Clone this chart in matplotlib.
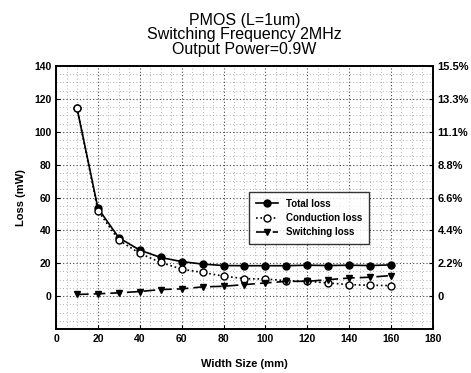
import matplotlib
matplotlib.use('Agg')
import matplotlib.pyplot as plt
import numpy as np

plt.rcParams['font.family'] = ['Liberation Sans', 'DejaVu Sans']

# data
width = [10, 20, 30, 40, 50, 60, 70, 80, 90, 100, 110, 120, 130, 140, 150, 160]
total_loss = [114.5, 53.5, 35.5, 28, 23.5, 21, 19.5, 18.6, 18.5, 18.5, 18.5, 18.8, 18.6, 18.8, 18.6, 19]
conduction_loss = [114.5, 52, 34, 26, 20.5, 16.4, 14.4, 12.2, 10.6, 10.4, 9.4, 9, 8, 7, 6.6, 6.4]
switching_loss = [1, 1.4, 2, 2.8, 4, 4.4, 5.6, 6, 7, 8, 9, 9, 10, 11, 11.5, 12.5]

left_ticks = [0, 20, 40, 60, 80, 100, 120, 140]
right_labels = ['0', '2.2%', '4.4%', '6.6%', '8.8%', '11.1%', '13.3%', '15.5%']

fig = plt.figure(figsize=(4.71, 3.73), dpi=100)
ax = fig.add_axes([0.119, 0.118, 0.8, 0.705])

ax.plot(width, total_loss, '-', color='black', lw=1.2, marker='o', ms=5,
        label='Total loss')
ax.plot(width, conduction_loss, ':', color='black', lw=1.2, marker='o', ms=5,
        mfc='white', mew=1.0, label='Conduction loss')
ax.plot(width, switching_loss, color='black', lw=1.2, ls=(0, (7, 3)), marker='v',
        ms=5, label='Switching loss')

ax.set_xlim(0, 180)
ax.set_ylim(-20, 140)
ax.set_xticks(np.arange(0, 181, 20))
ax.set_yticks(left_ticks)
ax.set_xticks(np.arange(0, 181, 5), minor=True)
ax.set_yticks(np.arange(-20, 141, 5), minor=True)
ax.grid(True, which='major', ls=(0, (1, 2)), color='#444444', lw=0.8)
ax.grid(True, which='minor', ls=(0, (1, 3)), color='#999999', lw=0.6)
ax.tick_params(which='minor', length=0)
ax.tick_params(which='major', length=3, direction='in', labelsize=7.5)
for lbl in ax.get_xticklabels() + ax.get_yticklabels():
    lbl.set_fontweight('bold')

ax2 = ax.twinx()
ax2.set_ylim(ax.get_ylim())
ax2.set_yticks(left_ticks)
ax2.set_yticklabels(right_labels, fontsize=8, fontweight='bold')
ax2.tick_params(length=3, direction='in')

for a in (ax, ax2):
    for s in a.spines.values():
        s.set_linewidth(1.2)

ax.set_xlabel('Width Size (mm)', fontsize=8, fontweight='bold', labelpad=11)
ax.set_ylabel('Loss (mW)', fontsize=8, fontweight='bold', labelpad=6)
ax.set_title('PMOS (L=1um)\nSwitching Frequency 2MHz\nOutput Power=0.9W',
             fontsize=11.5, linespacing=0.95, pad=9)

leg = ax.legend(loc='upper left', bbox_to_anchor=(0.5, 0.54), fontsize=7,
                frameon=True, fancybox=False, edgecolor='black',
                handlelength=2.3, borderpad=0.7, labelspacing=0.45)
leg.get_frame().set_linewidth(1.0)
for t in leg.get_texts():
    t.set_fontweight('bold')

fig.savefig('out.png', dpi=100)
